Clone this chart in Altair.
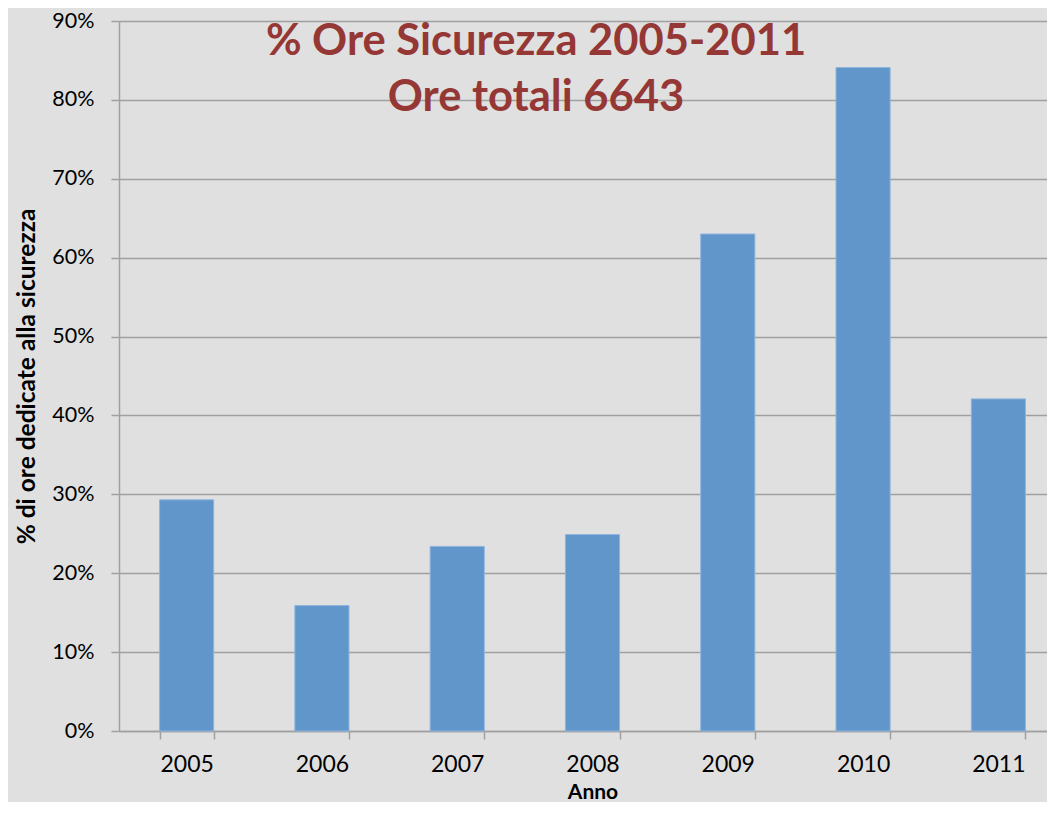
import altair as alt
import pandas as pd

# --- data ---
anni = ["2005", "2006", "2007", "2008", "2009", "2010", "2011"]
percentuali = [29.3, 15.9, 23.4, 24.9, 63.0, 84.1, 42.1]
titolo = ["% Ore Sicurezza 2005-2011", "Ore totali 6643"]
y_ticks = [0, 10, 20, 30, 40, 50, 60, 70, 80, 90]

df = pd.DataFrame({"Anno": anni, "Perc": percentuali})

FONT = "Lato"
GRID = "#A0A0A0"
BG = "#E0E0E0"

bars = alt.Chart(df).mark_bar(
    color="#6096CA", stroke="#8FB4E0", strokeWidth=1
).encode(
    x=alt.X(
        "Anno:N",
        sort=anni,
        scale=alt.Scale(paddingInner=0.6, paddingOuter=0.3),
        axis=alt.Axis(
            title="Anno",
            labelAngle=0,
            tickBand="extent",
            tickSize=8,
            tickColor=GRID,
            tickWidth=1.5,
            domainColor=GRID,
            domainWidth=1.5,
            labelFont=FONT,
            labelFontSize=23,
            labelColor="#000000",
            labelPadding=14,
            titleFont=FONT,
            titleFontSize=21,
            titleFontWeight="bold",
            titleColor="#000000",
            titlePadding=5,
            grid=False,
        ),
    ),
    y=alt.Y(
        "Perc:Q",
        scale=alt.Scale(domain=[0, 90], nice=False),
        axis=alt.Axis(
            title="% di ore dedicate alla sicurezza",
            values=y_ticks,
            labelExpr="datum.value + '%'",
            tickSize=8,
            tickColor=GRID,
            tickWidth=1.5,
            domainColor=GRID,
            domainWidth=1.5,
            gridColor=GRID,
            gridWidth=1.4,
            labelFont=FONT,
            labelFontSize=21.5,
            labelColor="#000000",
            labelPadding=17,
            titleFont=FONT,
            titleFontSize=24.5,
            titleFontWeight="bold",
            titleColor="#000000",
            titlePadding=12,
        ),
    ),
)

title_layer = alt.Chart(pd.DataFrame({"t": [0]})).mark_text(
    font=FONT,
    fontSize=43.5,
    fontWeight="bold",
    color="#953735",
    align="center",
    baseline="middle",
    lineHeight=56,
).encode(
    x=alt.value(417),
    y=alt.value(21),
    text=alt.value(titolo),
)

# The reference's plot area runs past the right edge of the picture,
# so the plot is wider than the visible canvas (negative right padding crops it).
chart = alt.layer(bars, title_layer).properties(
    width=947,
    height=710,
    autosize=alt.AutoSizeParams(type="none"),
    padding={"left": 111, "top": 13, "right": -19, "bottom": 71},
).configure(
    background=BG,
).configure_view(
    stroke="transparent",
    fill=BG,
)

chart.save("out.html", embed_options={"renderer": "svg", "actions": False})
